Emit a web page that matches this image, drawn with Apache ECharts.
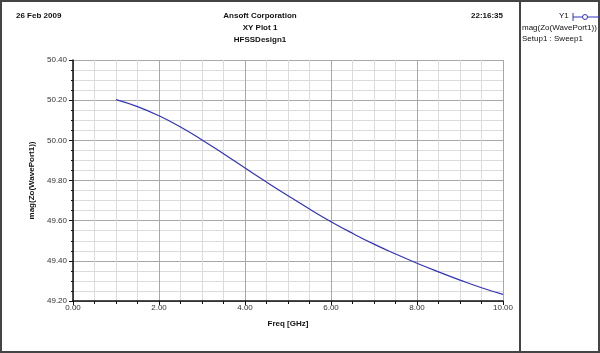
<!DOCTYPE html>
<html>
<head>
<meta charset="utf-8">
<script src="https://cdn.jsdelivr.net/npm/echarts@6/dist/echarts.min.js"></script>
<style>
  html, body { margin: 0; padding: 0; background: #fff; }
  #chart { width: 600px; height: 353px; }
</style>
</head>
<body>
<div id="chart"></div>
<script>
// frequency points (GHz) and mag(Zo(WavePort1))
var freq = [1.0, 1.5, 2.0, 2.5, 3.0, 3.5, 4.0, 4.5, 5.0, 5.5, 6.0, 6.5, 7.0, 7.5, 8.0, 8.5, 9.0, 9.5, 10.0];
var magZo = [50.203, 50.168, 50.122, 50.066, 50.002, 49.933, 49.862, 49.792, 49.724, 49.658, 49.595, 49.537, 49.483, 49.434, 49.388, 49.345, 49.304, 49.266, 49.233];

var headerLines = ['Ansoft Corporation', 'XY Plot 1', 'HFSSDesign1'];
var legendLines = ['mag(Zo(WavePort1))', 'Setup1 : Sweep1'];

var font = 'Liberation Sans, Arial, sans-serif';

var chart = echarts.init(document.getElementById('chart'));

var points = [];
for (var i = 0; i < freq.length; i++) {
    points.push([freq[i], magZo[i]]);
}

var graphics = [
    // outer frame and legend divider
    { type: 'rect', shape: { x: 1, y: 1, width: 598, height: 351 }, style: { fill: 'none', stroke: '#444', lineWidth: 2 }, silent: true },
    { type: 'line', shape: { x1: 520, y1: 0, x2: 520, y2: 353 }, style: { stroke: '#444', lineWidth: 2 }, silent: true },
    { type: 'text', left: 16, top: 12, style: { text: '26 Feb 2009', font: 'bold 8px ' + font, fill: '#111' } },
    { type: 'text', right: 97, top: 12, style: { text: '22:16:35', font: 'bold 8px ' + font, fill: '#111' } },
    // legend
    { type: 'text', left: 559, top: 12, style: { text: 'Y1', font: '8px ' + font, fill: '#111' } },
    { type: 'line', shape: { x1: 573, y1: 13, x2: 573, y2: 21 }, style: { stroke: '#3333bb', lineWidth: 1 } },
    { type: 'line', shape: { x1: 573, y1: 17, x2: 600, y2: 17 }, style: { stroke: '#3333bb', lineWidth: 1 } },
    { type: 'circle', shape: { cx: 585, cy: 17, r: 2.5 }, style: { fill: '#fff', stroke: '#3333bb', lineWidth: 1 } }
];
headerLines.forEach(function (t, k) {
    graphics.push({ type: 'text', x: 260, y: 12 + k * 12, style: { text: t, font: 'bold 8px ' + font, fill: '#111', textAlign: 'center' } });
});
legendLines.forEach(function (t, k) {
    graphics.push({ type: 'text', left: 522, top: 24 + k * 11, style: { text: t, font: '8px ' + font, fill: '#111' } });
});

chart.setOption({
    backgroundColor: '#fff',
    animation: false,
    textStyle: { fontFamily: font },
    grid: { left: 73, right: 97, top: 60, bottom: 52 },
    graphic: graphics,
    xAxis: {
        type: 'value',
        min: 0,
        max: 10,
        interval: 2,
        name: 'Freq [GHz]',
        nameLocation: 'middle',
        nameGap: 19,
        nameTextStyle: { fontSize: 8, fontWeight: 'bold', color: '#111' },
        axisLine: { show: true, onZero: false, lineStyle: { color: '#111', width: 1.5 } },
        axisTick: { show: true, length: 4, lineStyle: { color: '#111' } },
        minorTick: { show: true, splitNumber: 4, length: 3, lineStyle: { color: '#111' } },
        axisLabel: { fontSize: 8, color: '#333', margin: 3, formatter: function (v) { return v.toFixed(2); } },
        splitLine: { show: true, lineStyle: { color: '#a8a8a8', width: 1 } },
        minorSplitLine: { show: true, lineStyle: { color: '#dcdcdc', width: 1 } }
    },
    yAxis: {
        type: 'value',
        min: 49.2,
        max: 50.4,
        interval: 0.2,
        name: 'mag(Zo(WavePort1))',
        nameLocation: 'middle',
        nameGap: 29,
        nameTextStyle: { fontSize: 8, fontWeight: 'bold', color: '#111' },
        axisLine: { show: true, onZero: false, lineStyle: { color: '#111', width: 1.5 } },
        axisTick: { show: true, length: 4, lineStyle: { color: '#111' } },
        minorTick: { show: true, splitNumber: 4, length: 2, lineStyle: { color: '#111' } },
        axisLabel: { fontSize: 8, color: '#333', margin: 6, formatter: function (v) { return v.toFixed(2); } },
        splitLine: { show: true, lineStyle: { color: '#a8a8a8', width: 1 } },
        minorSplitLine: { show: true, lineStyle: { color: '#dcdcdc', width: 1 } }
    },
    series: [{
        name: 'Y1',
        type: 'line',
        data: points,
        smooth: true,
        showSymbol: false,
        lineStyle: { color: '#3333bb', width: 1.2 }
    }]
});
</script>
</body>
</html>
